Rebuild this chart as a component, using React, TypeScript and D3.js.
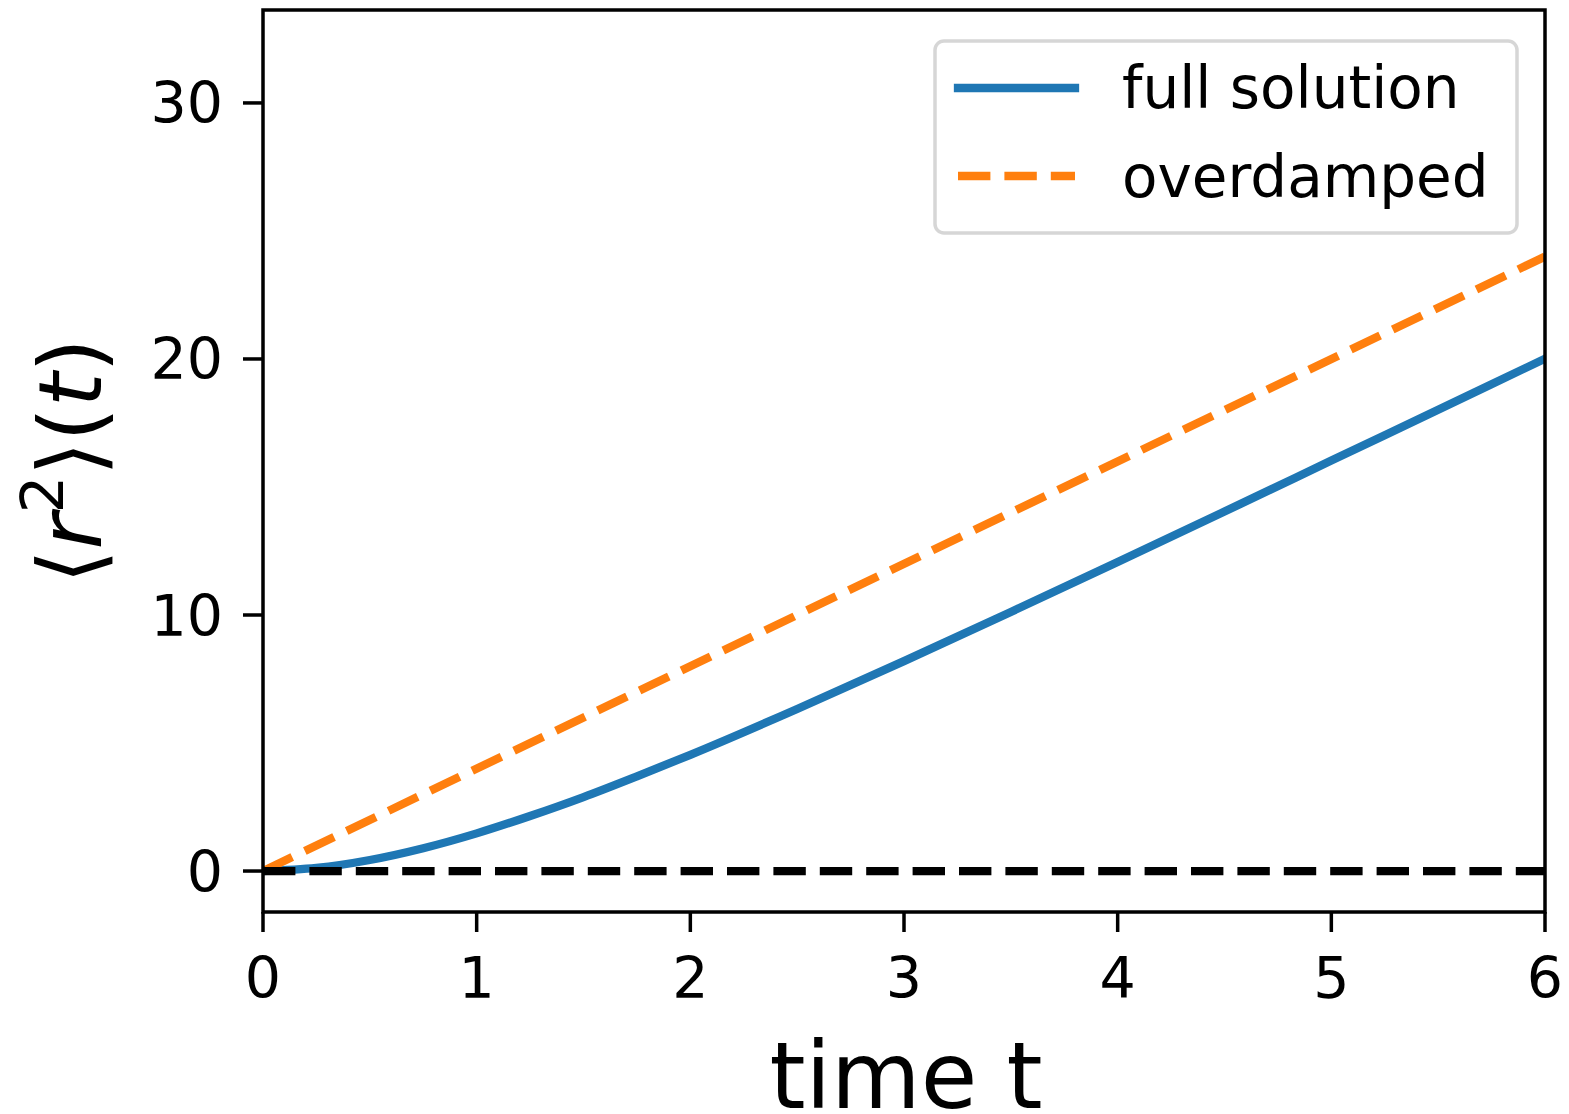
import React from "react";
import * as d3 from "d3";

const timeValues = [0, 0.25, 0.5, 0.75, 1, 1.25, 1.5, 1.75, 2, 2.5, 3, 3.5, 4, 4.5, 5, 5.5, 6];
const fullSolution = [0, 0.12, 0.43, 0.89, 1.47, 2.15, 2.89, 3.7, 4.54, 6.33, 8.2, 10.12, 12.07, 14.04, 16.03, 18.02, 20.01];
const overdampedTime = [0, 6];
const overdampedValues = [0, 24];
const zeroTime = [0, 6];
const zeroValues = [0, 0];
const xTicks = [0, 1, 2, 3, 4, 5, 6];
const yTicks = [0, 10, 20, 30];
const legendLabels = ["full solution", "overdamped"];

const W = 1569;
const H = 1114;
const left = 263;
const right = 1545;
const top = 10;
const bottom = 912;

export default function App() {
  const x = d3.scaleLinear().domain([0, 6]).range([left, right]);
  const y = d3.scaleLinear().domain([-1.6, 33.63]).range([bottom, top]);
  const line = d3
    .line<[number, number]>()
    .x((d) => x(d[0]))
    .y((d) => y(d[1]))
    .curve(d3.curveMonotoneX);
  const full = line(timeValues.map((t, i) => [t, fullSolution[i]]));
  const over = line(overdampedTime.map((t, i) => [t, overdampedValues[i]]));
  const zero = line(zeroTime.map((t, i) => [t, zeroValues[i]]));
  const font = "DejaVu Sans";
  const blue = "#1f77b4";
  const orange = "#ff7f0e";
  const lw = 8.3;
  const dash = "32.4 14";

  return (
    <svg
      width={W}
      height={H}
      style={{ position: "absolute", left: 0, top: 0, background: "#fff" }}
      fontFamily={font}
    >
      <defs>
        <clipPath id="plotclip">
          <rect x={left} y={top} width={right - left} height={bottom - top} />
        </clipPath>
      </defs>
      <rect x={0} y={0} width={W} height={H} fill="#fff" />
      <g clipPath="url(#plotclip)">
        <path d={full ?? ""} fill="none" stroke={blue} strokeWidth={lw} strokeLinecap="square" />
        <path d={over ?? ""} fill="none" stroke={orange} strokeWidth={lw} strokeDasharray={dash} />
        <path d={zero ?? ""} fill="none" stroke="#000" strokeWidth={lw} strokeDasharray={dash} />
      </g>
      {/* spines */}
      <rect x={left} y={top} width={right - left} height={bottom - top} fill="none" stroke="#000" strokeWidth={3.5} />
      {/* x ticks */}
      {xTicks.map((t) => (
        <g key={"x" + t}>
          <line x1={x(t)} x2={x(t)} y1={bottom} y2={bottom + 20} stroke="#000" strokeWidth={3.5} />
          <text x={x(t)} y={998} fontSize={57} textAnchor="middle" fill="#000">
            {t}
          </text>
        </g>
      ))}
      {/* y ticks */}
      {yTicks.map((t) => (
        <g key={"y" + t}>
          <line x1={left - 20} x2={left} y1={y(t)} y2={y(t)} stroke="#000" strokeWidth={3.5} />
          <text x={223} y={y(t)} dy="0.36em" fontSize={57} textAnchor="end" fill="#000">
            {t}
          </text>
        </g>
      ))}
      {/* axis labels */}
      <text x={(left + right) / 2 + 2} y={1108} fontSize={92} textAnchor="middle" fill="#000">
        time t
      </text>
      <text transform={`translate(101, ${(top + bottom) / 2}) rotate(-90)`} fontSize={88} textAnchor="middle" fill="#000">
        <tspan>⟨</tspan>
        <tspan fontStyle="italic">r</tspan>
        <tspan fontSize={59} dy={-38}>2</tspan>
        <tspan dy={38}>⟩(</tspan>
        <tspan fontStyle="italic">t</tspan>
        <tspan>)</tspan>
      </text>
      {/* legend */}
      <rect x={935} y={41} width={582} height={192} rx={9} fill="#fff" fillOpacity={0.8} stroke="#d6d6d6" strokeWidth={3.5} />
      <line x1={958} x2={1075} y1={88} y2={88} stroke={blue} strokeWidth={lw} strokeLinecap="square" />
      <line x1={958} x2={1075} y1={176} y2={176} stroke={orange} strokeWidth={lw} strokeDasharray={dash} />
      <text x={1122} y={108} fontSize={58} fill="#000">
        {legendLabels[0]}
      </text>
      <text x={1122} y={197} fontSize={58} fill="#000">
        {legendLabels[1]}
      </text>
    </svg>
  );
}
